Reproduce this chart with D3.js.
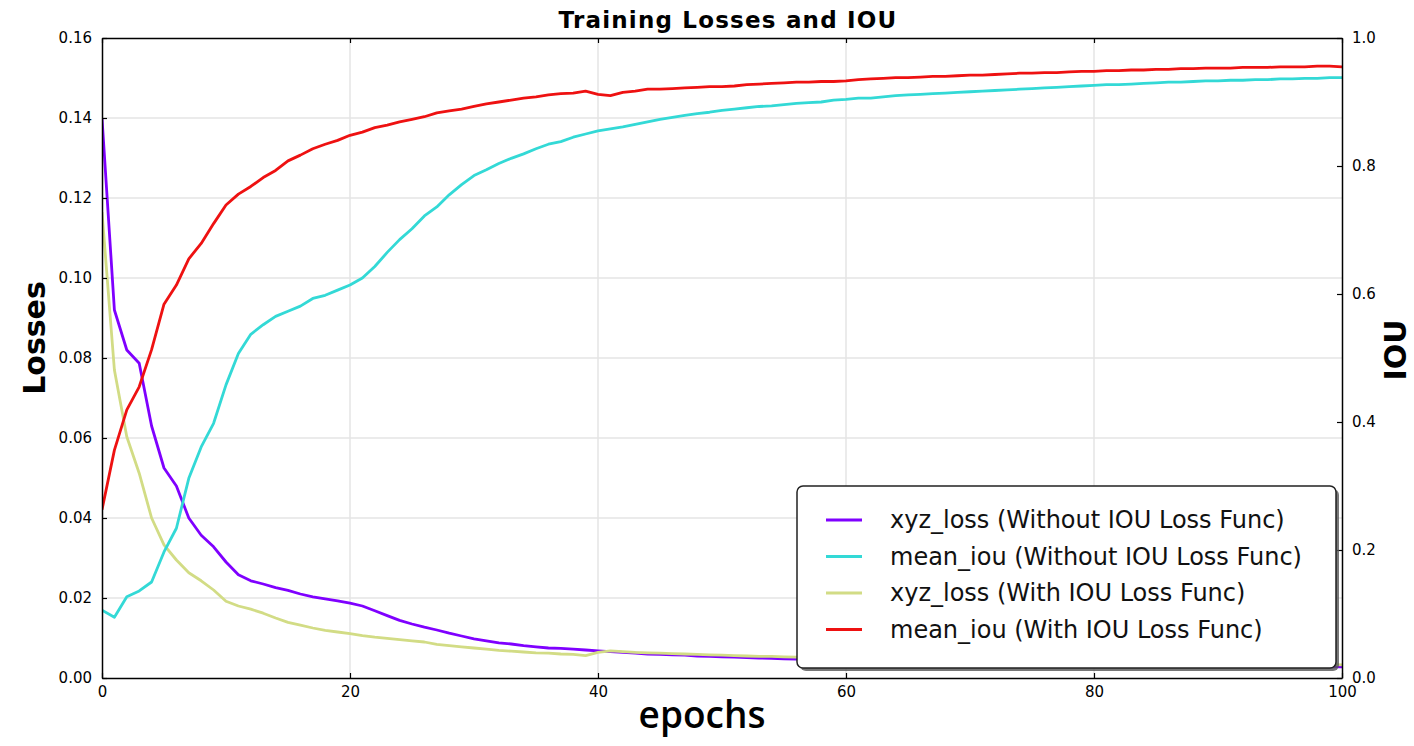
<!DOCTYPE html>
<html>
<head>
<meta charset="utf-8">
<script src="https://cdn.jsdelivr.net/npm/d3@7.9.0/dist/d3.min.js"></script>
<style>
  html, body { margin: 0; padding: 0; background: #fff; }
  svg { display: block; }
  .tick text { font-family: "DejaVu Sans", sans-serif; font-size: 15px; fill: #000; }
</style>
</head>
<body>
<div id="chart"></div>
<script>
// ---- Data ----
const epochs = d3.range(0, 101);

const lossWithout = [
  0.140, 0.092, 0.082, 0.0787, 0.063, 0.0525, 0.048, 0.040, 0.0357, 0.0328,
  0.029, 0.0258, 0.0243, 0.0235, 0.0226, 0.0219, 0.0210, 0.0203, 0.0198, 0.0193,
  0.0187, 0.0180, 0.0168, 0.0156, 0.0144, 0.0135, 0.0127, 0.0120, 0.0112, 0.0105,
  0.0098, 0.0093, 0.0088, 0.0085, 0.0081, 0.0078, 0.0075, 0.0074, 0.0072, 0.0070,
  0.0068, 0.0066, 0.0064, 0.0062, 0.0060, 0.0059, 0.0058, 0.0057, 0.0055, 0.0054,
  0.0053, 0.0052, 0.0051, 0.0050, 0.0049, 0.0048, 0.0047, 0.0046, 0.0046, 0.0045,
  0.0045, 0.0044, 0.0044, 0.0043, 0.0043, 0.0042, 0.0042, 0.0041, 0.0041, 0.0040,
  0.0040, 0.0039, 0.0039, 0.0038, 0.0038, 0.0037, 0.0037, 0.0036, 0.0036, 0.0035,
  0.0035, 0.0035, 0.0034, 0.0034, 0.0034, 0.0033, 0.0033, 0.0033, 0.0032, 0.0032,
  0.0032, 0.0031, 0.0031, 0.0031, 0.0030, 0.0030, 0.0030, 0.0029, 0.0029, 0.0028,
  0.0028
];

const iouWithout = [
  0.106, 0.095, 0.127, 0.136, 0.150, 0.197, 0.234, 0.312, 0.361, 0.398,
  0.458, 0.507, 0.537, 0.552, 0.565, 0.573, 0.581, 0.593, 0.598, 0.606,
  0.614, 0.625, 0.643, 0.665, 0.685, 0.702, 0.722, 0.736, 0.755, 0.771,
  0.785, 0.794, 0.804, 0.812, 0.819, 0.827, 0.834, 0.838, 0.845, 0.850,
  0.855, 0.858, 0.861, 0.865, 0.869, 0.873, 0.876, 0.879, 0.882, 0.884,
  0.887, 0.889, 0.891, 0.893, 0.894, 0.896, 0.898, 0.899, 0.900, 0.903,
  0.904, 0.906, 0.906, 0.908, 0.910, 0.911, 0.912, 0.913, 0.914, 0.915,
  0.916, 0.917, 0.918, 0.919, 0.920, 0.921, 0.922, 0.923, 0.924, 0.925,
  0.926, 0.927, 0.927, 0.928, 0.929, 0.930, 0.931, 0.931, 0.932, 0.933,
  0.933, 0.934, 0.934, 0.935, 0.935, 0.936, 0.936, 0.937, 0.937, 0.938,
  0.938
];

const lossWith = [
  0.1165, 0.077, 0.0603, 0.0512, 0.040, 0.0333, 0.0295, 0.0263, 0.0243, 0.0220,
  0.0192, 0.0180, 0.0172, 0.0162, 0.0150, 0.0139, 0.0132, 0.0125, 0.0119, 0.0115,
  0.0111, 0.0106, 0.0102, 0.0099, 0.0096, 0.0093, 0.0090, 0.0084, 0.0081, 0.0078,
  0.0075, 0.0072, 0.0069, 0.0067, 0.0065, 0.0063, 0.0062, 0.0060, 0.0059, 0.0056,
  0.0064, 0.0068, 0.0066, 0.0064, 0.0063, 0.0062, 0.0061, 0.0060, 0.0059, 0.0058,
  0.0057, 0.0056, 0.0055, 0.0054, 0.0054, 0.0053, 0.0052, 0.0051, 0.0051, 0.0050,
  0.0050, 0.0049, 0.0049, 0.0048, 0.0048, 0.0047, 0.0047, 0.0046, 0.0046, 0.0045,
  0.0045, 0.0044, 0.0044, 0.0043, 0.0043, 0.0042, 0.0042, 0.0041, 0.0041, 0.0040,
  0.0040, 0.0040, 0.0039, 0.0039, 0.0039, 0.0038, 0.0038, 0.0038, 0.0037, 0.0037,
  0.0037, 0.0036, 0.0036, 0.0036, 0.0035, 0.0035, 0.0035, 0.0034, 0.0034, 0.0034,
  0.0033
];

const iouWith = [
  0.263, 0.356, 0.419, 0.455, 0.513, 0.584, 0.614, 0.655, 0.679, 0.710,
  0.739, 0.756, 0.768, 0.782, 0.793, 0.808, 0.817, 0.827, 0.834, 0.840,
  0.848, 0.853, 0.860, 0.864, 0.869, 0.873, 0.877, 0.883, 0.886, 0.889,
  0.893, 0.897, 0.900, 0.903, 0.906, 0.908, 0.911, 0.913, 0.914, 0.917,
  0.912, 0.910, 0.915, 0.917, 0.920, 0.920, 0.921, 0.922, 0.923, 0.924,
  0.924, 0.925, 0.927, 0.928, 0.929, 0.930, 0.931, 0.931, 0.932, 0.932,
  0.933, 0.935, 0.936, 0.937, 0.938, 0.938, 0.939, 0.940, 0.940, 0.941,
  0.942, 0.942, 0.943, 0.944, 0.945, 0.945, 0.946, 0.946, 0.947, 0.948,
  0.948, 0.949, 0.949, 0.950, 0.950, 0.951, 0.951, 0.952, 0.952, 0.953,
  0.953, 0.953, 0.954, 0.954, 0.954, 0.955, 0.955, 0.955, 0.956, 0.956,
  0.955
];

const xTicks = [0, 20, 40, 60, 80, 100];
const lossTicks = [0, 0.02, 0.04, 0.06, 0.08, 0.10, 0.12, 0.14, 0.16];
const iouTicks = [0, 0.2, 0.4, 0.6, 0.8, 1.0];

const legendLabels = [
  'xyz_loss (Without IOU Loss Func)',
  'mean_iou (Without IOU Loss Func)',
  'xyz_loss (With IOU Loss Func)',
  'mean_iou (With IOU Loss Func)'
];

// ---- Layout ----
const width = 1414, height = 746;
const margin = { top: 38, right: 72, bottom: 68, left: 102 };
const iw = width - margin.left - margin.right;
const ih = height - margin.top - margin.bottom;

const series = [
  { values: lossWithout, axis: 'loss', color: '#7f00ff', label: legendLabels[0] },
  { values: lossWith,    axis: 'loss', color: '#d2dc85', label: legendLabels[2] },
  { values: iouWithout,  axis: 'iou',  color: '#33d9d6', label: legendLabels[1] },
  { values: iouWith,     axis: 'iou',  color: '#ee1111', label: legendLabels[3] }
];
const legendOrder = [series[0], series[2], series[1], series[3]];

const svg = d3.select('#chart').append('svg')
  .attr('width', width)
  .attr('height', height);

const x = d3.scaleLinear().domain([0, 100]).range([0, iw]);
const yLoss = d3.scaleLinear().domain([0, 0.16]).range([ih, 0]);
const yIou = d3.scaleLinear().domain([0, 1]).range([ih, 0]);

const g = svg.append('g').attr('transform', `translate(${margin.left},${margin.top})`);

// grid
g.append('g')
  .selectAll('line.hgrid')
  .data(lossTicks.slice(1, -1))
  .join('line')
  .attr('x1', 0).attr('x2', iw)
  .attr('y1', d => yLoss(d)).attr('y2', d => yLoss(d))
  .attr('stroke', '#e4e4e4').attr('stroke-width', 1.5);

g.append('g')
  .selectAll('line.vgrid')
  .data(xTicks.slice(1, -1))
  .join('line')
  .attr('x1', d => x(d)).attr('x2', d => x(d))
  .attr('y1', 0).attr('y2', ih)
  .attr('stroke', '#e4e4e4').attr('stroke-width', 1.5);

// lines
const clip = svg.append('defs').append('clipPath').attr('id', 'plotClip');
clip.append('rect').attr('width', iw).attr('height', ih);

const lines = g.append('g').attr('clip-path', 'url(#plotClip)');
series.forEach(s => {
  const yScale = s.axis === 'loss' ? yLoss : yIou;
  const line = d3.line()
    .x((d, i) => x(epochs[i]))
    .y(d => yScale(d));
  lines.append('path')
    .datum(s.values)
    .attr('fill', 'none')
    .attr('stroke', s.color)
    .attr('stroke-width', 2.8)
    .attr('stroke-linejoin', 'round')
    .attr('d', line);
});

// axes (inward ticks, matplotlib classic)
const tickLen = 5;
const xAxisBottom = d3.axisBottom(x).tickValues(xTicks).tickSizeInner(-tickLen).tickSizeOuter(0)
  .tickPadding(8).tickFormat(d3.format('d'));
const xAxisTop = d3.axisTop(x).tickValues(xTicks).tickSizeInner(-tickLen).tickSizeOuter(0)
  .tickFormat('');
const yAxisLeft = d3.axisLeft(yLoss).tickValues(lossTicks).tickSizeInner(-tickLen).tickSizeOuter(0)
  .tickPadding(10).tickFormat(d3.format('.2f'));
const yAxisRight = d3.axisRight(yIou).tickValues(iouTicks).tickSizeInner(-tickLen).tickSizeOuter(0)
  .tickPadding(10).tickFormat(d3.format('.1f'));

function styleAxis(sel) {
  sel.select('.domain').attr('stroke', '#000').attr('stroke-width', 1.5);
  sel.selectAll('.tick line').attr('stroke', '#000').attr('stroke-width', 1.2);
}

g.append('g').attr('transform', `translate(0,${ih})`).call(xAxisBottom).call(styleAxis);
g.append('g').call(xAxisTop).call(styleAxis);
g.append('g').call(yAxisLeft).call(styleAxis);
g.append('g').attr('transform', `translate(${iw},0)`).call(yAxisRight).call(styleAxis);

// legend
const lg = g.append('g').attr('transform', `translate(${797 - margin.left},${486 - margin.top})`);
const lw = 539, lh = 182;
lg.append('rect')
  .attr('x', 3).attr('y', 3).attr('width', lw).attr('height', lh)
  .attr('rx', 6).attr('fill', '#555').attr('opacity', 0.8);
lg.append('rect')
  .attr('width', lw).attr('height', lh).attr('rx', 6)
  .attr('fill', '#fff').attr('stroke', '#222').attr('stroke-width', 1.5);

legendOrder.forEach((s, i) => {
  const yy = 34 + i * 36.5;
  lg.append('line')
    .attr('x1', 29).attr('x2', 65)
    .attr('y1', yy).attr('y2', yy)
    .attr('stroke', s.color).attr('stroke-width', 3);
  lg.append('text')
    .attr('x', 93).attr('y', yy)
    .attr('dy', '0.35em')
    .style('font-family', '"DejaVu Sans", sans-serif')
    .style('font-size', '24px')
    .attr('fill', '#111')
    .text(s.label);
});

// titles
svg.append('text')
  .attr('x', 728)
  .attr('y', 28)
  .attr('text-anchor', 'middle')
  .style('font-family', '"DejaVu Sans", sans-serif')
  .style('font-weight', 'bold')
  .style('font-size', '23px')
  .style('letter-spacing', '1.2px')
  .text('Training Losses and IOU');

svg.append('text')
  .attr('transform', `translate(45,${margin.top + ih / 2 - 20}) rotate(-90)`)
  .attr('text-anchor', 'middle')
  .style('font-family', '"DejaVu Sans", sans-serif')
  .style('font-weight', 'bold')
  .style('font-size', '30px')
  .text('Losses');

svg.append('text')
  .attr('transform', `translate(1406,${margin.top + ih / 2 - 8}) rotate(-90)`)
  .attr('text-anchor', 'middle')
  .style('font-family', '"DejaVu Sans", sans-serif')
  .style('font-weight', 'bold')
  .style('font-size', '30px')
  .text('IOU');

svg.append('text')
  .attr('x', 702)
  .attr('y', 728)
  .attr('text-anchor', 'middle')
  .style('font-family', '"Open Sans", sans-serif')
  .style('font-weight', '600')
  .style('font-size', '37px')
  .text('epochs');
</script>
</body>
</html>
